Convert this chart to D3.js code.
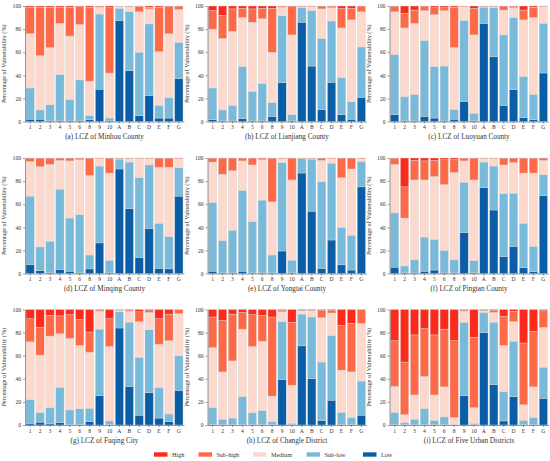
<!DOCTYPE html>
<html>
<head>
<meta charset="utf-8">
<script src="https://cdn.jsdelivr.net/npm/d3@7"></script>
<style>
  html, body { margin: 0; padding: 0; background: #fff; }
  svg { display: block; font-family: "Liberation Serif", "Times New Roman", serif; }
  .axis path, .axis line { stroke: #555; stroke-width: 0.6; }
  .axis text { fill: #333; font-size: 5.6px; font-family: "Liberation Serif", serif; }
</style>
</head>
<body>
<svg id="chart" width="550" height="461"></svg>
<script>
// categories and levels
const categories = ['1', '2', '3', '4', '5', '6', '8', '9', '10', 'A', 'B', 'C', 'D', 'E', 'F', 'G'];
const levels = ['Low', 'Sub-low', 'Medium', 'Sub-high', 'High'];
const levelColors = ['#0b5ea6', '#79b9d9', '#fdd9cd', '#fe6a47', '#fd2a1c'];
const legendOrder = ['High', 'Sub-high', 'Medium', 'Sub-low', 'Low'];
const yTicks = [0, 20, 40, 60, 80, 100];
const titles = [
    '(a) LCZ of Minhou County', '(b) LCZ of Lianjiang County', '(c) LCZ of Luoyuan County',
    '(d) LCZ of Minqing County', '(e) LCZ of Yongtai County', '(f) LCZ of Pingtan County',
    '(g) LCZ of Fuqing City', '(h) LCZ of Changle District', '(i) LCZ of Five Urban Districts',
];

// (a) Minhou
const minhouLow = [2, 2, 0.5, 1, 1, 0.5, 1.5, 28, 0.5, 87.5, 44, 5, 22.5, 3, 3, 37];
const minhouSubLow = [27, 8, 14, 39.5, 18, 35.5, 3.5, 65, 2.5, 10.5, 51, 55, 62, 11, 17.5, 31.5];
const minhouMedium = [47, 47, 49.5, 44.5, 55, 48, 30, 6, 39, 1.8, 4.5, 35, 13, 46.5, 55.5, 28.5];
const minhouSubHigh = [23, 42, 35, 14, 25, 15.5, 64, 0.5, 56.5, 0.2, 0.3, 4.8, 1.5, 38.5, 23.5, 2.5];
const minhouHigh = [1, 1, 1, 1, 1, 0.5, 1, 0.5, 1.5, 0, 0.2, 0.2, 1, 1, 0.5, 0.5];

// (b) Lianjiang
const lianjiangLow = [1.5, 0.5, 0.5, 2.5, 1, 0.5, 4.5, 33.5, 1, 86, 48, 10.5, 34, 6, 2, 21];
const lianjiangSubLow = [27.5, 9.5, 13.5, 45, 25, 32.5, 12, 58, 5, 12.5, 48, 61.5, 53, 32, 15, 43.5];
const lianjiangMedium = [51, 62, 64, 42.5, 60, 56, 43.5, 7.5, 69, 1, 3.5, 25.5, 11.5, 43, 71, 30.5];
const lianjiangSubHigh = [16, 20, 19.5, 8, 11.5, 9, 38, 0.5, 24.5, 0.3, 0.3, 2, 1, 17, 10, 4.5];
const lianjiangHigh = [4, 8, 2.5, 2, 2.5, 2, 2, 0.5, 0.5, 0.2, 0.2, 0.5, 0.5, 2, 2, 0.5];

// (c) Luoyuan
const luoyuanLow = [6, 1, 1, 4.5, 3, 0.5, 2, 17.5, 1, 85, 56, 14, 27.5, 3.5, 1.5, 42];
const luoyuanSubLow = [52, 20.5, 22.5, 65.5, 44.5, 47.5, 8.5, 70, 6, 14, 42.5, 61, 62.5, 35.5, 22, 43];
const luoyuanMedium = [37, 59.5, 61.5, 26, 45, 48, 53.5, 12, 68, 0.5, 1, 21.5, 8.5, 49, 66.5, 14.5];
const luoyuanSubHigh = [4.5, 12.5, 11.5, 3.5, 6, 2.5, 35, 0.3, 23, 0.3, 0.3, 3, 1, 8.5, 9, 0.3];
const luoyuanHigh = [0.5, 6.5, 3.5, 0.5, 1.5, 1.5, 1, 0.2, 2, 0.2, 0.2, 0.5, 0.5, 3.5, 1, 0.2];

// (d) Minqing
const minqingLow = [7.5, 2.5, 1, 3.5, 2, 0.5, 4, 26.5, 0.5, 90.5, 56, 14, 39, 4.5, 4, 67];
const minqingSubLow = [59.5, 20.5, 27, 69.5, 46, 50.5, 12, 66.5, 11, 8.5, 40.5, 69, 55, 39, 28, 24.5];
const minqingMedium = [30, 69.5, 66.5, 25, 49.5, 47.5, 69, 6.5, 75.5, 0.5, 3, 16.5, 5.5, 48.5, 60, 8];
const minqingSubHigh = [2.5, 7, 5, 1.5, 2, 1, 14.5, 0.3, 12.5, 0.3, 0.3, 0.3, 0.3, 7.5, 7.5, 0.3];
const minqingHigh = [0.5, 0.5, 0.5, 0.5, 0.5, 0.5, 0.5, 0.2, 0.5, 0.2, 0.2, 0.2, 0.2, 0.5, 0.5, 0.2];

// (e) Yongtai
const yongtaiLow = [2, 0.5, 0.5, 2, 0.5, 0.5, 0.5, 19.5, 0.5, 87, 54, 4.5, 29, 7.5, 3, 75];
const yongtaiSubLow = [59.5, 28, 37, 70, 44.5, 63, 15.5, 76.5, 11, 12.5, 45, 75, 66.5, 32.5, 30, 22];
const yongtaiMedium = [35, 57.5, 51.5, 25.5, 49, 35, 46, 3.5, 69.5, 0.3, 0.5, 18.5, 4, 43, 57.5, 2.5];
const yongtaiSubHigh = [3, 13.5, 10.5, 2, 5.5, 1, 37.5, 0.3, 18.5, 0.1, 0.3, 1.5, 0.3, 16.5, 9, 0.3];
const yongtaiHigh = [0.5, 0.5, 0.5, 0.5, 0.5, 0.5, 0.5, 0.2, 0.5, 0.1, 0.2, 0.5, 0.2, 0.5, 0.5, 0.2];

// (f) Pingtan
const pingtanLow = [5.5, 0.5, 0.5, 2, 3, 0.5, 0.5, 35.5, 0.5, 74.5, 55, 14.5, 23.5, 5, 1.5, 67.5];
const pingtanSubLow = [47, 6, 11.5, 29.5, 26.5, 19.5, 11.5, 43.5, 10.5, 22, 38, 54.5, 46, 38.5, 22, 18];
const pingtanMedium = [42, 41.5, 69, 49.5, 54.5, 57, 75.5, 18.5, 70, 3, 6.5, 25, 26.5, 43.5, 63.5, 12.5];
const pingtanSubHigh = [5, 27, 17, 16.5, 14, 21.5, 11, 2, 18.5, 0.3, 0.3, 5.5, 3.5, 12.5, 12.5, 1.5];
const pingtanHigh = [0.5, 25, 2, 2.5, 2, 1.5, 1.5, 0.5, 0.5, 0.2, 0.2, 0.5, 0.5, 0.5, 0.5, 0.5];

// (g) Fuqing
const fuqingLow = [1.5, 2.5, 1, 2, 0.5, 0.5, 3, 25.5, 0.5, 84, 33.5, 8.5, 28, 6, 3, 30];
const fuqingSubLow = [20.5, 8.5, 14, 30.5, 12.5, 13.5, 11.5, 57.5, 3, 14, 55.5, 50, 54.5, 26.5, 6.5, 30];
const fuqingMedium = [50, 49.5, 62, 46.5, 62, 55, 48.5, 15.5, 64.5, 1.5, 9.5, 31, 15, 37.5, 63.5, 36.5];
const fuqingSubHigh = [20, 24, 18, 15.5, 20.5, 22.5, 17.5, 1, 24, 0.3, 1, 8.5, 1.5, 22, 23, 3.5];
const fuqingHigh = [8, 15.5, 5, 5.5, 4.5, 8.5, 19.5, 0.5, 8, 0.2, 0.5, 2, 1, 8, 4, 0];

// (h) Changle
const changleLow = [0.5, 0.5, 0.5, 0.5, 0.5, 0.5, 0.5, 39.5, 0.5, 68.5, 40, 4, 21.5, 0.5, 0.5, 8.5];
const changleSubLow = [14.5, 4.5, 5.5, 24, 10, 12, 2.5, 50, 1, 27.5, 53.5, 50.5, 56, 10.5, 6, 29.5];
const changleMedium = [52, 41, 49.5, 58.5, 57.5, 60, 22, 8.5, 33, 3, 5.5, 38.5, 19.5, 36.5, 39.5, 50];
const changleSubHigh = [26.5, 44.5, 40.5, 14.5, 27.5, 22.5, 68.5, 1.5, 54.5, 0.5, 0.5, 6.5, 2.5, 38.5, 42, 12];
const changleHigh = [6.5, 9.5, 4, 2.5, 4.5, 5, 6.5, 0.5, 11, 0.5, 0.5, 0.5, 0.5, 14, 12, 0];

// (i) Five Urban Districts
const urbanLow = [0.5, 0.5, 0.5, 0.5, 0.5, 0.5, 0.1, 25.5, 0.5, 80, 35, 3.5, 24.5, 0.5, 0.5, 23];
const urbanSubLow = [10.5, 1.5, 4.5, 13.5, 3.5, 6.5, 0.4, 63.5, 1, 17.5, 54, 25.5, 48, 3.5, 6, 27];
const urbanMedium = [22.5, 7, 21, 28, 22, 26, 6, 9.5, 13.5, 1.5, 8.5, 40, 17, 13.5, 26.5, 34.5];
const urbanSubHigh = [39.5, 45.5, 52, 41.5, 52, 50, 66.5, 1, 61, 0.5, 2, 25, 9, 53.5, 48, 15];
const urbanHigh = [27, 45.5, 22, 16.5, 22, 17, 27, 0.5, 24, 0.5, 0.5, 6, 1.5, 29, 19, 0.5];

const panelSeries = [
    [minhouLow, minhouSubLow, minhouMedium, minhouSubHigh, minhouHigh],
    [lianjiangLow, lianjiangSubLow, lianjiangMedium, lianjiangSubHigh, lianjiangHigh],
    [luoyuanLow, luoyuanSubLow, luoyuanMedium, luoyuanSubHigh, luoyuanHigh],
    [minqingLow, minqingSubLow, minqingMedium, minqingSubHigh, minqingHigh],
    [yongtaiLow, yongtaiSubLow, yongtaiMedium, yongtaiSubHigh, yongtaiHigh],
    [pingtanLow, pingtanSubLow, pingtanMedium, pingtanSubHigh, pingtanHigh],
    [fuqingLow, fuqingSubLow, fuqingMedium, fuqingSubHigh, fuqingHigh],
    [changleLow, changleSubLow, changleMedium, changleSubHigh, changleHigh],
    [urbanLow, urbanSubLow, urbanMedium, urbanSubHigh, urbanHigh],
];

// grid layout of the 3x3 panels
const colLeft = [25, 207.5, 389.5];
const rowTop = [6, 158, 309.5];
const plotW = 159;
const plotH = 115.5;

const svg = d3.select('#chart');
const color = d3.scaleOrdinal().domain(levels).range(levelColors);

const x = d3.scaleBand().domain(categories).range([0, plotW]).paddingInner(0.16).paddingOuter(0.1);
const y = d3.scaleLinear().domain([0, 1]).range([plotH, 0]);

const stack = d3.stack().keys(levels).offset(d3.stackOffsetExpand);

panelSeries.forEach((series, p) =>
{
    const left = colLeft[p % 3];
    const top = rowTop[Math.floor(p / 3)];
    const g = svg.append('g').attr('transform', `translate(${left},${top})`);

    const rows = categories.map((c, i) =>
    {
        const row = { cat: c };
        levels.forEach((lv, k) => { row[lv] = series[k][i]; });
        return row;
    });

    const layers = stack(rows);

    g.selectAll('g.layer')
        .data(layers)
        .join('g')
        .attr('class', 'layer')
        .attr('fill', (d) => color(d.key))
        .selectAll('rect')
        .data((d) => d)
        .join('rect')
        .attr('x', (d) => x(d.data.cat))
        .attr('width', x.bandwidth())
        .attr('y', (d) => y(d[1]))
        .attr('height', (d) => Math.max(0, y(d[0]) - y(d[1])))
        .attr('stroke', '#d4d4d4')
        .attr('stroke-width', 0.4);

    g.append('g')
        .attr('class', 'axis')
        .call(d3.axisLeft(y).tickValues(yTicks.map((t) => t / 100)).tickFormat((d) => Math.round(d * 100)).tickSize(2).tickPadding(2).tickSizeOuter(0));

    g.append('g')
        .attr('class', 'axis')
        .attr('transform', `translate(0,${plotH})`)
        .call(d3.axisBottom(x).tickSize(2).tickPadding(2).tickSizeOuter(0));

    g.append('text')
        .attr('transform', `translate(-19,${plotH / 2}) rotate(-90)`)
        .attr('text-anchor', 'middle')
        .attr('font-size', 6.2)
        .attr('fill', '#333')
        .text('Percentage of Vulnerability (%)');

    g.append('text')
        .attr('x', plotW / 2)
        .attr('y', plotH + 17.5)
        .attr('text-anchor', 'middle')
        .attr('font-size', 7.2)
        .attr('fill', '#333')
        .text(titles[p]);
});

// legend
const legendX = [154, 198.5, 253, 306.5, 363];
const legend = svg.append('g').attr('transform', 'translate(0,454.5)');
legendOrder.forEach((lv, i) =>
{
    legend.append('rect')
        .attr('x', legendX[i])
        .attr('y', -2.2)
        .attr('width', 13.5)
        .attr('height', 4.4)
        .attr('fill', color(lv));
    legend.append('text')
        .attr('x', legendX[i] + 18)
        .attr('y', 2.2)
        .attr('font-size', 6.2)
        .attr('fill', '#333')
        .text(lv);
});
</script>
</body>
</html>
